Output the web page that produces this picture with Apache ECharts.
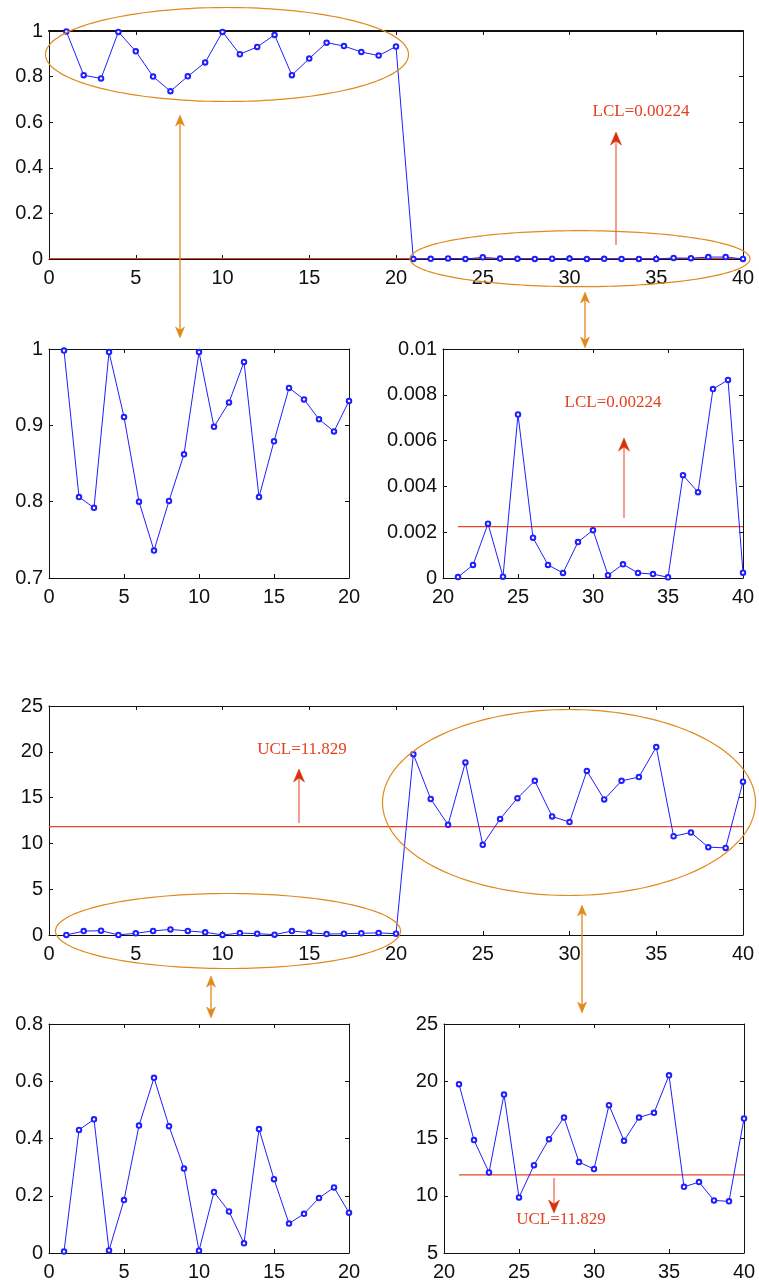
<!DOCTYPE html>
<html><head><meta charset="utf-8">
<script src="https://cdn.jsdelivr.net/npm/echarts@6/dist/echarts.min.js"></script>
<style>html,body{margin:0;padding:0;background:#fff}#c{width:759px;height:1286px}</style>
</head><body><div id="c"></div>
<script>
// ---- data ----
const samples = [1,2,3,4,5,6,7,8,9,10,11,12,13,14,15,16,17,18,19,20,
                 21,22,23,24,25,26,27,28,29,30,31,32,33,34,35,36,37,38,39,40];
// upper chart statistic (proportion)
const pValues = [0.998,0.806,0.792,0.996,0.911,0.800,0.736,0.801,0.862,0.996,
                 0.898,0.930,0.983,0.806,0.879,0.949,0.934,0.908,0.892,0.932,
                 0.00004,0.00057,0.00237,0.00006,0.00714,0.00176,0.00057,0.00022,0.00157,0.00209,
                 0.00012,0.00060,0.00022,0.00017,0.00003,0.00449,0.00375,0.00825,0.00865,0.00023];
// lower chart statistic
const tValues = [0.005,0.430,0.467,0.009,0.185,0.445,0.612,0.443,0.295,0.008,
                 0.213,0.145,0.034,0.433,0.258,0.103,0.137,0.192,0.229,0.141,
                 19.74,14.86,12.03,18.84,9.85,12.67,14.94,16.83,12.94,12.33,
                 17.91,14.80,16.83,17.24,20.52,10.78,11.19,9.59,9.51,16.74];
const LCL = 0.00224;
const UCL = 11.829;
const lclLabel = 'LCL=0.00224';
const uclLabel = 'UCL=11.829';
const fullSpan = [0, 40];
const subSpan = [21, 40];

// ---- layout ----
const grids = [
  {left:49, top:31,   width:694, height:228}, // top overview
  {left:49, top:349,  width:300, height:229}, // top-left zoom
  {left:443,top:349,  width:300, height:229}, // top-right zoom
  {left:49, top:706,  width:694, height:229}, // bottom overview
  {left:49, top:1024, width:300, height:229}, // bottom-left zoom
  {left:444,top:1024, width:300, height:229}  // bottom-right zoom
];
const ranges = [
  {x:[0,40],  y:[0,1],    yi:0.2},
  {x:[0,20],  y:[0.7,1],  yi:0.1},
  {x:[20,40], y:[0,0.01], yi:0.002},
  {x:[0,40],  y:[0,25],   yi:5},
  {x:[0,20],  y:[0,0.8],  yi:0.2},
  {x:[20,40], y:[5,25],   yi:5}
];
const fmt = v => String(parseFloat(v.toFixed(6)));
const LABEL_FONT = {fontFamily:'Liberation Sans', fontSize:20, color:'#111'};
const xAxes = [], yAxes = [];
ranges.forEach((r, gi) => {
  ['bottom','top'].forEach(pos => xAxes.push({
    type:'value', gridIndex:gi, position:pos, min:r.x[0], max:r.x[1], interval:5,
    axisLine:{show:true, onZero:false, lineStyle:{color:'#111', width:(gi===0 && pos==='top') ? 2 : 1}},
    axisTick:{show:true, inside:true, length:4, lineStyle:{color:'#111'}},
    axisLabel:{show: pos==='bottom', margin:9, formatter:fmt, ...LABEL_FONT},
    splitLine:{show:false}
  }));
  ['left','right'].forEach(pos => yAxes.push({
    type:'value', gridIndex:gi, position:pos, min:r.y[0], max:r.y[1], interval:r.yi,
    axisLine:{show:true, onZero:false, lineStyle:{color:'#111', width:1}},
    axisTick:{show:true, inside:true, length:4, lineStyle:{color:'#111'}},
    axisLabel:{show: pos==='left', margin:6, formatter:fmt, ...LABEL_FONT},
    splitLine:{show:false}
  }));
});

const BLUE = '#1f1fff';
const RED_LINE = '#e8462a';
function pts(vals, from, to) {
  const out = [];
  for (let i = from; i < to; i++) out.push([samples[i], vals[i]]);
  return out;
}
function blueSeries(gi, data) {
  return {type:'line', xAxisIndex:2*gi, yAxisIndex:2*gi, data,
    symbol:'emptyCircle', symbolSize:4.5, showSymbol:true,
    lineStyle:{color:BLUE, width:1}, itemStyle:{color:BLUE, borderColor:BLUE, borderWidth:0.9},
    z:3, silent:true};
}
function limitSeries(gi, value, span) {
  return {type:'line', xAxisIndex:2*gi, yAxisIndex:2*gi,
    data:[[span[0], value],[span[1], value]], symbol:'none',
    lineStyle:{color:RED_LINE, width:1.2}, z:2, silent:true};
}
const series = [
  limitSeries(0, LCL, fullSpan), blueSeries(0, pts(pValues, 0, 40)),
  blueSeries(1, pts(pValues, 0, 20)),
  limitSeries(2, LCL, subSpan), blueSeries(2, pts(pValues, 20, 40)),
  limitSeries(3, UCL, fullSpan), blueSeries(3, pts(tValues, 0, 40)),
  blueSeries(4, pts(tValues, 0, 20)),
  limitSeries(5, UCL, subSpan), blueSeries(5, pts(tValues, 20, 40))
];

// ---- annotations ----
const ORANGE = '#e0891c';
const graphics = [];
function ellipse(cx, cy, rx, ry) {
  const p = [];
  for (let k = 0; k < 180; k++) {
    const a = k / 180 * Math.PI * 2;
    p.push([cx + rx*Math.cos(a), cy + ry*Math.sin(a)]);
  }
  graphics.push({type:'polygon', shape:{points:p}, silent:true, z:100,
    style:{fill:'none', stroke:ORANGE, lineWidth:1.2}});
}
function head(x, tipY, dir, color, len, hw, notch) {
  // dir = -1 pointing up, +1 pointing down
  const by = tipY - dir*len;
  graphics.push({type:'polygon', silent:true, z:101,
    shape:{points:[[x, tipY],[x-hw, by],[x, tipY - dir*(len-notch)],[x+hw, by]]},
    style:{fill:color, stroke:color, lineWidth:0.5}});
}
function doubleArrow(x, y1, y2) {
  graphics.push({type:'line', silent:true, z:100, shape:{x1:x, y1:y1+4, x2:x, y2:y2-4},
    style:{stroke:ORANGE, lineWidth:1.3}});
  head(x, y1, -1, ORANGE, 11, 4.5, 3);
  head(x, y2, 1, ORANGE, 11, 4.5, 3);
}
function redArrow(x, fromY, tipY) {
  const dir = tipY < fromY ? -1 : 1;
  graphics.push({type:'line', silent:true, z:100, shape:{x1:x, y1:fromY, x2:x, y2:tipY - dir*4},
    style:{stroke:'#ee6a55', lineWidth:1.3}});
  head(x, tipY, dir, '#d8320c', 13, 5.5, 4);
}
function label(text, x, y) {
  graphics.push({type:'text', silent:true, z:102,
    style:{text, x, y, fill:'#e4401e', font:'17px "Liberation Serif"',
      textAlign:'center', textVerticalAlign:'middle'}});
}
ellipse(227, 54.5, 181.5, 47);
ellipse(580, 258.7, 170, 28);
ellipse(228, 931, 172.5, 37.5);
ellipse(569, 802.5, 186.5, 93);
doubleArrow(180, 115, 338);
doubleArrow(585, 292, 348);
doubleArrow(211, 976, 1018);
doubleArrow(582, 905, 1013);
redArrow(616, 245, 132); label(lclLabel, 641, 112);
redArrow(624, 518, 438); label(lclLabel, 613, 403);
redArrow(299, 823, 769); label(uclLabel, 302, 750);
redArrow(554, 1178, 1213); label(uclLabel, 561, 1220);

const chart = echarts.init(document.getElementById('c'), null, {renderer:'canvas'});
chart.setOption({
  animation:false,
  backgroundColor:'#fff',
  grid: grids.map(g => ({...g, show:false, containLabel:false})),
  xAxis: xAxes, yAxis: yAxes, series, graphic: graphics
});
</script></body></html>
